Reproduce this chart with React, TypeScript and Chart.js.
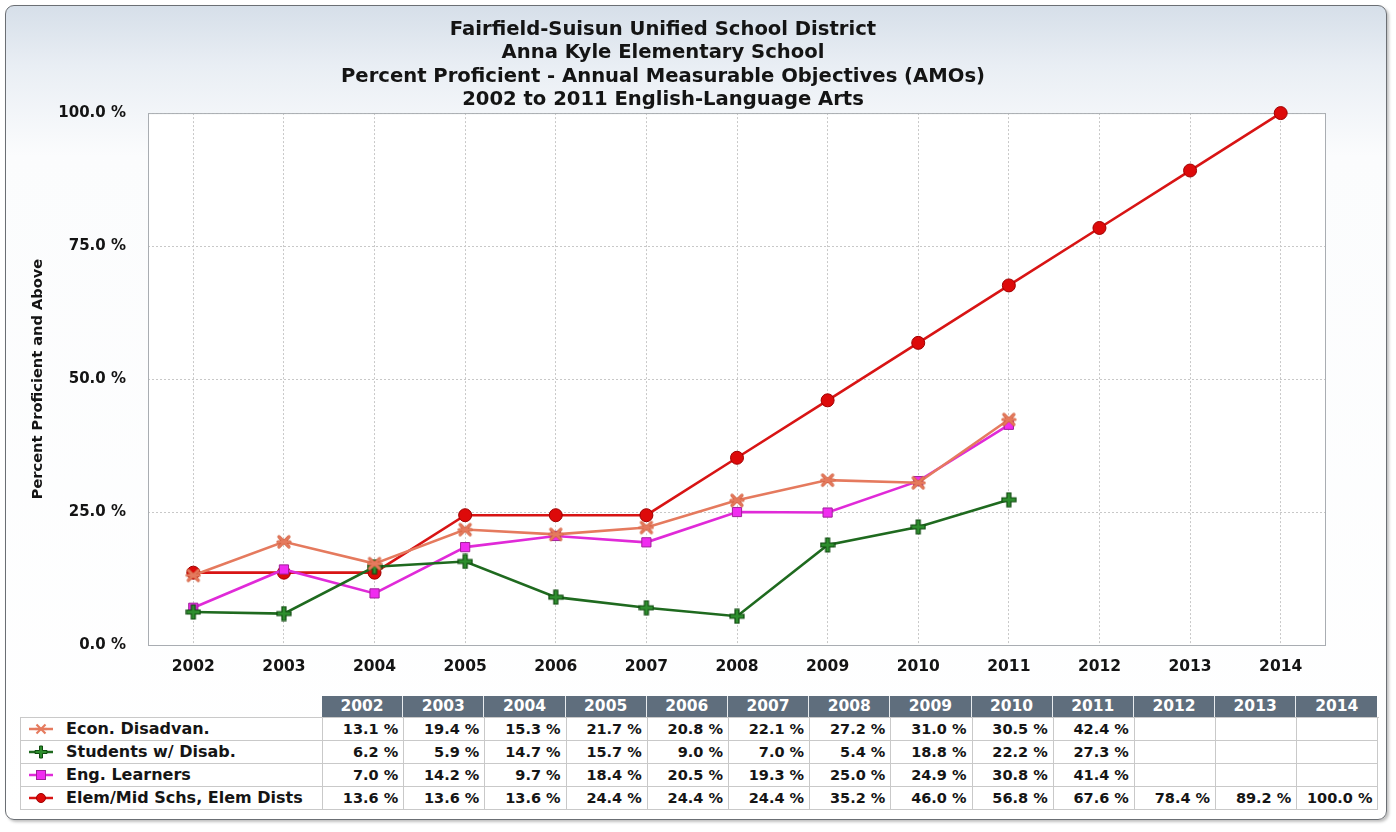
import React, { useEffect, useRef } from "react";
import { Chart, registerables } from "chart.js";

Chart.register(...registerables);

const years = ["2002", "2003", "2004", "2005", "2006", "2007", "2008", "2009", "2010", "2011", "2012", "2013", "2014"];
const titleLines = [
  "Fairfield-Suisun Unified School District",
  "Anna Kyle Elementary School",
  "Percent Proficient - Annual Measurable Objectives (AMOs)",
  "2002 to 2011 English-Language Arts",
];
const yTitle = "Percent Proficient and Above";
const yTicks = [0, 25, 50, 75, 100];

const econDisadvan = [13.1, 19.4, 15.3, 21.7, 20.8, 22.1, 27.2, 31.0, 30.5, 42.4, null, null, null];
const studentsDisab = [6.2, 5.9, 14.7, 15.7, 9.0, 7.0, 5.4, 18.8, 22.2, 27.3, null, null, null];
const engLearners = [7.0, 14.2, 9.7, 18.4, 20.5, 19.3, 25.0, 24.9, 30.8, 41.4, null, null, null];
const elemMid = [13.6, 13.6, 13.6, 24.4, 24.4, 24.4, 35.2, 46.0, 56.8, 67.6, 78.4, 89.2, 100.0];

const seriesNames = ["Econ. Disadvan.", "Students w/ Disab.", "Eng. Learners", "Elem/Mid Schs, Elem Dists"];

const FONT = "'DejaVu Sans', Verdana, sans-serif";

type Series = {
  name: string;
  data: (number | null)[];
  line: string;
  fill: string;
  stroke: string;
  style: string;
  radius: number;
};

const series: Series[] = [
  { name: seriesNames[0], data: econDisadvan, line: "#e57a5e", fill: "#e57a5e", stroke: "#c8583c", style: "asterisk", radius: 7 },
  { name: seriesNames[1], data: studentsDisab, line: "#1f6a1f", fill: "#2e8e2e", stroke: "#0f4a0f", style: "plus", radius: 7 },
  { name: seriesNames[2], data: engLearners, line: "#e02ad8", fill: "#f02cf0", stroke: "#a0209a", style: "rect", radius: 6.5 },
  { name: seriesNames[3], data: elemMid, line: "#d81414", fill: "#dd0a0a", stroke: "#a00000", style: "circle", radius: 6.5 },
];

function makeAsterisk(color: string, stroke: string) {
  const c = document.createElement("canvas");
  c.width = 16;
  c.height = 16;
  const g = c.getContext("2d")!;
  g.lineCap = "round";
  g.strokeStyle = stroke;
  g.lineWidth = 3.2;
  const draw = () => {
    g.beginPath();
    g.moveTo(3, 3);
    g.lineTo(13, 13);
    g.moveTo(13, 3);
    g.lineTo(3, 13);
    g.moveTo(2, 8);
    g.lineTo(14, 8);
    g.stroke();
  };
  draw();
  g.strokeStyle = color;
  g.lineWidth = 2;
  draw();
  return c;
}

function makePlus(fill: string, stroke: string) {
  const c = document.createElement("canvas");
  c.width = 16;
  c.height = 16;
  const g = c.getContext("2d")!;
  g.fillStyle = fill;
  g.strokeStyle = stroke;
  g.lineWidth = 1.2;
  g.beginPath();
  g.moveTo(6, 1);
  g.lineTo(10, 1);
  g.lineTo(10, 6);
  g.lineTo(15, 6);
  g.lineTo(15, 10);
  g.lineTo(10, 10);
  g.lineTo(10, 15);
  g.lineTo(6, 15);
  g.lineTo(6, 10);
  g.lineTo(1, 10);
  g.lineTo(1, 6);
  g.lineTo(6, 6);
  g.closePath();
  g.fill();
  g.stroke();
  return c;
}

function Marker({ s }: { s: Series }) {
  let m: React.ReactNode = null;
  if (s.style === "circle") m = <circle cx={13} cy={7} r={4.5} fill={s.fill} stroke={s.stroke} strokeWidth={1} />;
  else if (s.style === "rect") m = <rect x={8.5} y={2.5} width={9} height={9} fill={s.fill} stroke={s.stroke} strokeWidth={1} />;
  else if (s.style === "plus")
    m = <path d="M11.5 1 H14.5 V5.5 H19 V8.5 H14.5 V13 H11.5 V8.5 H7 V5.5 H11.5 Z" fill={s.fill} stroke={s.stroke} strokeWidth={1} />;
  else
    m = (
      <g stroke={s.line} strokeWidth={2.2}>
        <line x1={8.5} y1={2.5} x2={17.5} y2={11.5} />
        <line x1={17.5} y1={2.5} x2={8.5} y2={11.5} />
        <line x1={7} y1={7} x2={19} y2={7} />
      </g>
    );
  return (
    <svg width={26} height={14} style={{ verticalAlign: "middle", marginRight: 12, position: "relative", top: -1 }}>
      <line x1={1} y1={7} x2={25} y2={7} stroke={s.line} strokeWidth={2.5} />
      {m}
    </svg>
  );
}

const framePlugin = {
  id: "frame",
  beforeDraw(chart: any) {
    const { ctx, chartArea } = chart;
    ctx.save();
    ctx.fillStyle = "#ffffff";
    ctx.fillRect(chartArea.left, chartArea.top, chartArea.right - chartArea.left, chartArea.bottom - chartArea.top);
    ctx.restore();
  },
  beforeDatasetsDraw(chart: any) {
    const { ctx, chartArea } = chart;
    ctx.save();
    ctx.strokeStyle = "#a9adb2";
    ctx.lineWidth = 1;
    ctx.strokeRect(chartArea.left + 0.5, chartArea.top + 0.5, chartArea.right - chartArea.left - 1, chartArea.bottom - chartArea.top);
    ctx.restore();
  },
};

export default function App() {
  const ref = useRef<HTMLCanvasElement | null>(null);

  useEffect(() => {
    if (!ref.current) return;
    const styles: Record<string, any> = {
      asterisk: makeAsterisk(series[0].line, "#d0603f"),
      plus: makePlus(series[1].fill, series[1].stroke),
      rect: "rect",
      circle: "circle",
    };
    const chart = new Chart(ref.current, {
      type: "line",
      data: {
        labels: years,
        datasets: series.map((s) => ({
          label: s.name,
          data: s.data,
          borderColor: s.line,
          borderWidth: 2.6,
          backgroundColor: s.fill,
          pointStyle: styles[s.style],
          pointRadius: s.radius,
          pointBorderWidth: 1,
          pointBorderColor: s.stroke,
          pointBackgroundColor: s.fill,
          tension: 0,
          spanGaps: false,
          clip: false as any,
        })),
      },
      options: {
        responsive: false,
        animation: false,
        layout: { padding: { left: 0, right: 70, top: 0, bottom: 0 } },
        plugins: {
          legend: { display: false },
          tooltip: { enabled: false },
          title: {
            display: true,
            text: titleLines,
            color: "#141414",
            font: { family: FONT, size: 19.6, weight: "bold", lineHeight: 1.2 },
            padding: { top: 18, bottom: 1 },
          },
        },
        scales: {
          x: {
            type: "category",
            offset: true,
            grid: { display: true, offset: false, drawTicks: false, color: "#c8c8c8", lineWidth: 1 },
            border: { display: false, dash: [2, 2] },
            ticks: { color: "#141414", font: { family: FONT, size: 15.5, weight: "bold" }, padding: 13, maxRotation: 0, autoSkip: false },
            afterFit: (s: any) => {
              s.height = 45;
            },
          },
          y: {
            min: 0,
            max: 100,
            afterBuildTicks: (s: any) => {
              s.ticks = yTicks.map((v) => ({ value: v }));
            },
            grid: { drawTicks: false, color: (c: any) => (c.tick && c.tick.value === 0 ? "rgba(0,0,0,0)" : "#c8c8c8"), lineWidth: 1 },
            border: { display: false, dash: [2, 2] },
            ticks: {
              color: "#141414",
              font: { family: FONT, size: 15, weight: "bold" },
              padding: 22,
              callback: (v: any) => Number(v).toFixed(1) + " %",
            },
            title: {
              display: true,
              text: yTitle,
              color: "#141414",
              font: { family: FONT, size: 14.6, weight: "bold" },
              padding: { top: 29, bottom: 0 },
            },
            afterFit: (s: any) => {
              s.width = 148;
            },
          },
        },
      },
      plugins: [framePlugin],
    });
    return () => chart.destroy();
  }, []);

  const labelW = 302;
  const colW = 81.2;
  const cellBase: React.CSSProperties = {
    boxSizing: "border-box",
    borderRight: "1px solid #c9c9c9",
    borderBottom: "1px solid #c9c9c9",
    fontFamily: FONT,
    fontWeight: "bold",
    fontSize: 14.5,
    color: "#151515",
    whiteSpace: "nowrap",
    overflow: "hidden",
  };

  return (
    <div style={{ position: "absolute", left: 0, top: 0, width: 1396, height: 832, overflow: "hidden", background: "#ffffff" }}>
      <div
        style={{
          position: "absolute",
          left: 5,
          top: 5,
          width: 1382,
          height: 815,
          boxSizing: "border-box",
          border: "1px solid #6b6f74",
          borderRadius: 9,
          background: "linear-gradient(180deg, #d6dfe9 0px, #e9eef4 60px, #fbfcfd 150px, #ffffff 100%)",
          boxShadow: "2px 2px 3px rgba(0,0,0,0.25)",
        }}
      />
      <canvas ref={ref} width={1396} height={690} style={{ position: "absolute", left: 0, top: 0, width: 1396, height: 690 }} />
      <div style={{ position: "absolute", left: 20, top: 696 }}>
        <div style={{ display: "flex", height: 21 }}>
          <div style={{ width: labelW }} />
          {years.map((y, i) => (
            <div
              key={y}
              style={{
                width: colW,
                height: 21,
                boxSizing: "border-box",
                background: "#5f6e7d",
                borderRight: i < years.length - 1 ? "1px solid #e8ecef" : "none",
                color: "#ffffff",
                fontFamily: FONT,
                fontWeight: "bold",
                fontSize: 15.5,
                lineHeight: "21px",
                textAlign: "center",
              }}
            >
              {y}
            </div>
          ))}
        </div>
        <div style={{ borderTop: "1px solid #c9c9c9", borderLeft: "1px solid #c9c9c9", background: "#ffffff", width: labelW + colW * years.length }}>
          {series.map((s) => (
            <div key={s.name} style={{ display: "flex", height: 23 }}>
              <div style={{ ...cellBase, width: labelW, height: 23, lineHeight: "22px", paddingLeft: 7, fontSize: 16 }}>
                <Marker s={s} />
                {s.name}
              </div>
              {s.data.map((v, i) => (
                <div key={i} style={{ ...cellBase, width: colW, height: 23, lineHeight: "22px", textAlign: "right", paddingRight: 5 }}>
                  {v === null ? "" : v.toFixed(1) + " %"}
                </div>
              ))}
            </div>
          ))}
        </div>
      </div>
    </div>
  );
}
